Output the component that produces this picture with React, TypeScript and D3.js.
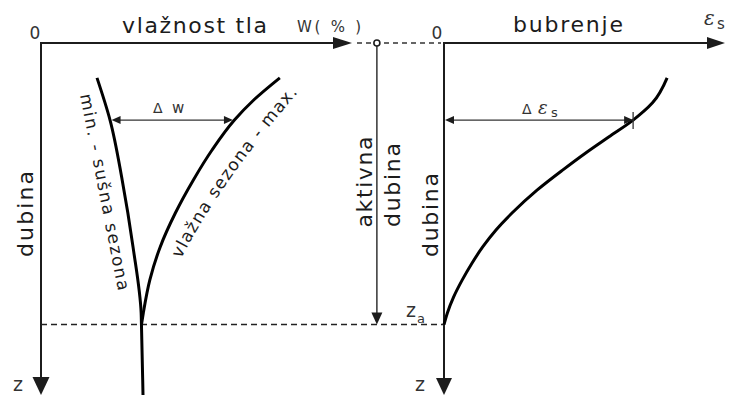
import React from 'react'
import * as d3 from 'd3'

const WIDTH = 731
const HEIGHT = 396

// depth z (0..10) and curve values
const minDepth = [0.99, 2.19, 3.89, 5.8, 7.67, 8.0, 10]
const minMoisture = [1.8, 2.22, 2.61, 2.96, 3.22, 3.23, 3.28]

const maxDepth = [0.99, 1.62, 2.19, 3.04, 3.89, 4.83, 5.8, 6.73, 7.67, 8.0]
const maxMoisture = [7.68, 6.84, 6.22, 5.5, 4.9, 4.32, 3.83, 3.5, 3.29, 3.23]

const swellDepth = [0.99, 1.7, 2.19, 2.67, 3.13, 3.61, 4.18, 4.83, 5.31, 5.8, 6.25, 6.73, 7.22, 7.67, 8.0]
const swellValue = [7.94, 7.42, 6.73, 5.86, 5.03, 4.22, 3.31, 2.42, 1.85, 1.37, 1.0, 0.65, 0.34, 0.12, 0]

const activeDepth = 8.0 // z_a
const deltaDepth = 2.19 // level of the Δ arrows
const markerMoisture = 10.8 // the small circle sits past the W axis end

const font = '"DejaVu Sans", Verdana, sans-serif'
const serif = '"DejaVu Serif", "Liberation Serif", serif'
const ink = '#1c1c1c'

const downArrow = (x: number, tip: number, len: number, half: number) =>
  `M${x - half},${tip - len}L${x + half},${tip - len}L${x},${tip}Z`
const rightArrow = (tip: number, y: number, len: number, half: number) =>
  `M${tip - len},${y - half}L${tip - len},${y + half}L${tip},${y}Z`
const leftArrow = (tip: number, y: number, len: number, half: number) =>
  `M${tip + len},${y - half}L${tip + len},${y + half}L${tip},${y}Z`

export default function App() {
  const z = d3.scaleLinear().domain([0, 10]).range([43, 395])
  const w = d3.scaleLinear().domain([0, 10]).range([41, 352])
  const e = d3.scaleLinear().domain([0, 10]).range([444, 725])

  const lineW = d3.line<[number, number]>().x(d => w(d[1])).y(d => z(d[0])).curve(d3.curveMonotoneY)
  const lineE = d3.line<[number, number]>().x(d => e(d[1])).y(d => z(d[0])).curve(d3.curveMonotoneY)

  const minPts = minDepth.map((d, i) => [d, minMoisture[i]] as [number, number])
  const maxPts = maxDepth.map((d, i) => [d, maxMoisture[i]] as [number, number])
  const swellPts = swellDepth.map((d, i) => [d, swellValue[i]] as [number, number])

  const y0 = z(0)
  const yEnd = z(10)
  const ya = z(activeDepth)
  const yd = z(deltaDepth)
  const mx = w(markerMoisture)

  const dwLeft = w(minMoisture[minDepth.indexOf(deltaDepth)]) + 1.5
  const dwRight = w(maxMoisture[maxDepth.indexOf(deltaDepth)]) - 1.5
  const deRight = e(swellValue[swellDepth.indexOf(deltaDepth)])

  return (
    <svg width={WIDTH} height={HEIGHT} style={{ position: 'absolute', left: 0, top: 0, background: '#fff' }}
      fontFamily={font}>
      <defs>
        <path id="maxLabel" d="M181,259 Q219.6,183 301,89" />
      </defs>

      {/* left panel axes */}
      <line x1={w(0)} y1={y0} x2={w(10) - 17} y2={y0} stroke={ink} strokeWidth={2} />
      <path d={rightArrow(w(10), y0, 19, 6)} fill={ink} />
      <line x1={w(0)} y1={y0 - 1} x2={w(0)} y2={yEnd - 16} stroke={ink} strokeWidth={2} />
      <path d={downArrow(w(0), yEnd, 18, 8.5)} fill={ink} />

      {/* right panel axes */}
      <line x1={e(0)} y1={y0} x2={e(10) - 17} y2={y0} stroke={ink} strokeWidth={2} />
      <path d={rightArrow(e(10), y0, 18, 6)} fill={ink} />
      <line x1={e(0)} y1={y0 - 1} x2={e(0)} y2={yEnd - 16} stroke={ink} strokeWidth={2} />
      <path d={downArrow(e(0), yEnd, 17, 8)} fill={ink} />

      {/* dashed reference lines */}
      <line x1={w(10) + 5} y1={y0} x2={e(0) - 3} y2={y0} stroke="#333" strokeWidth={1.5} strokeDasharray="5,4" />
      <line x1={w(0)} y1={ya} x2={e(0)} y2={ya} stroke="#222" strokeWidth={1.5} strokeDasharray="6,4" />

      {/* active depth marker */}
      <line x1={mx} y1={y0 + 3} x2={mx} y2={ya - 10} stroke="#333" strokeWidth={1.5} />
      <path d={downArrow(mx, ya, 12, 5.5)} fill={ink} />
      <circle cx={mx} cy={y0} r={3} fill="#fff" stroke={ink} strokeWidth={1.6} />

      {/* curves */}
      <path d={lineW(minPts) ?? ''} fill="none" stroke="#000" strokeWidth={3} />
      <path d={lineW(maxPts) ?? ''} fill="none" stroke="#000" strokeWidth={3} />
      <path d={lineE(swellPts) ?? ''} fill="none" stroke="#000" strokeWidth={3} />

      {/* Δw */}
      <line x1={dwLeft + 6} y1={yd} x2={dwRight - 6} y2={yd} stroke="#333" strokeWidth={1.4} />
      <path d={leftArrow(dwLeft, yd, 9, 4)} fill={ink} />
      <path d={rightArrow(dwRight, yd, 9, 4)} fill={ink} />
      <text x={153} y={113} fontSize={14} fill="#333">Δ</text>
      <text x={172} y={113} fontSize={15} fill="#333">w</text>

      {/* Δεs */}
      <line x1={e(0) + 6} y1={yd} x2={deRight - 6} y2={yd} stroke="#333" strokeWidth={1.4} />
      <path d={leftArrow(e(0) + 1, yd, 9, 4)} fill={ink} />
      <path d={rightArrow(deRight, yd, 9, 4)} fill={ink} />
      <line x1={deRight} y1={yd - 8} x2={deRight} y2={yd + 9} stroke="#333" strokeWidth={1.3} />
      <text x={522} y={114} fontSize={14} fill="#333">Δ</text>
      <text x={538} y={114} fontSize={18} fill="#333" fontStyle="italic" fontFamily={serif}>ε</text>
      <text x={551} y={117} fontSize={13} fill="#333">s</text>

      {/* titles */}
      <text x={122} y={33} fontSize={22} fill={ink} textLength={145} lengthAdjust="spacing">vlažnost tla</text>
      <text x={297} y={32} fontSize={15} fill="#333" textLength={64} lengthAdjust="spacing">W( % )</text>
      <text x={513} y={32} fontSize={22} fill={ink} textLength={110} lengthAdjust="spacing">bubrenje</text>
      <text x={704} y={25} fontSize={20} fill="#333" fontStyle="italic" fontFamily={serif}>ε</text>
      <text x={717} y={29} fontSize={15} fill="#333">s</text>
      <text x={35} y={39} fontSize={17} fill="#333" textAnchor="middle">0</text>
      <text x={437} y={39} fontSize={17} fill="#333" textAnchor="middle">0</text>

      {/* vertical labels */}
      <text transform="translate(33,214) rotate(-90)" fontSize={22} fill={ink} textAnchor="middle"
        textLength={86} lengthAdjust="spacing">dubina</text>
      <text transform="translate(372,182) rotate(-90)" fontSize={22} fill={ink} textAnchor="middle"
        textLength={91} lengthAdjust="spacing">aktivna</text>
      <text transform="translate(400,185) rotate(-90)" fontSize={22} fill={ink} textAnchor="middle"
        textLength={84} lengthAdjust="spacing">dubina</text>
      <text transform="translate(438,215) rotate(-90)" fontSize={22} fill={ink} textAnchor="middle"
        textLength={84} lengthAdjust="spacing">dubina</text>

      {/* curve labels */}
      <text transform="translate(80,95) rotate(79)" fontSize={17} fill={ink}
        textLength={200} lengthAdjust="spacing">min. - sušna sezona</text>
      <text fontSize={17} fill={ink}>
        <textPath href="#maxLabel" textLength={204} lengthAdjust="spacing">vlažna sezona - max.</textPath>
      </text>

      {/* z labels */}
      <text x={18} y={391} fontSize={19} fill="#333" textAnchor="middle">z</text>
      <text x={420} y={391} fontSize={19} fill="#333" textAnchor="middle">z</text>
      <text x={406} y={317} fontSize={19} fill="#333">z</text>
      <text x={417} y={323} fontSize={13} fill="#333">a</text>
    </svg>
  )
}
